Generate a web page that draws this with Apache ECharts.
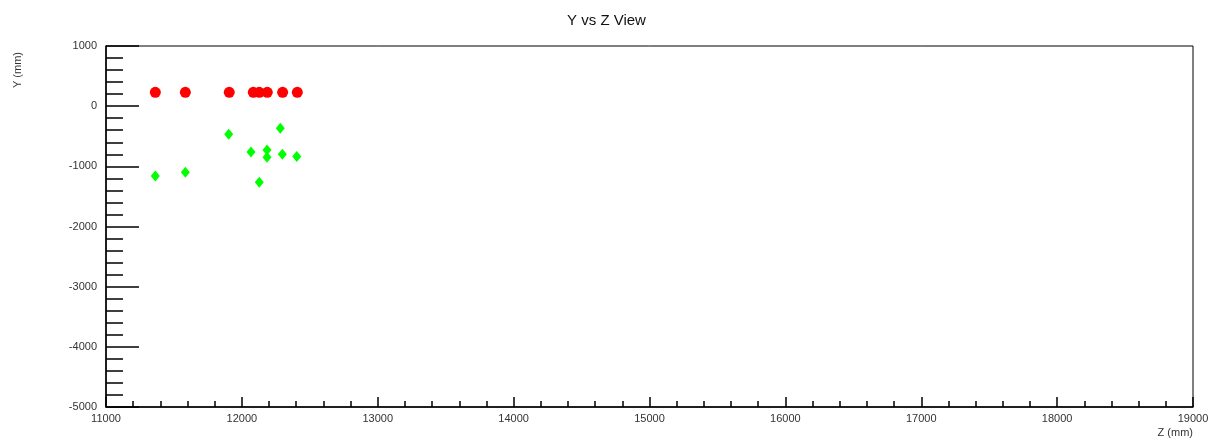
<!DOCTYPE html>
<html>
<head>
<meta charset="utf-8">
<script src="https://cdn.jsdelivr.net/npm/echarts@6/dist/echarts.min.js"></script>
<style>
  html, body { margin: 0; padding: 0; background: #fff; }
  #chart { width: 1213px; height: 441px; }
</style>
</head>
<body>
<div id="chart"></div>
<script>
// hit positions, Z (mm) and Y (mm)
const redZ = [11363, 11584, 11907, 12084, 12128, 12187, 12300, 12408];
const redY = [230, 230, 230, 230, 230, 230, 230, 230];
const greenZ = [11363, 11584, 11903, 12067, 12128, 12185, 12185, 12283, 12298, 12404];
const greenY = [-1160, -1100, -465, -760, -1265, -730, -850, -365, -800, -835];

const zTicks = [11000, 12000, 13000, 14000, 15000, 16000, 17000, 18000, 19000];
const yTicks = [-5000, -4000, -3000, -2000, -1000, 0, 1000];

const font = "'Liberation Sans', Arial, sans-serif";

const chart = echarts.init(document.getElementById("chart"));

const pairs = (xs, ys) => xs.map((x, i) => [x, ys[i]]);

chart.setOption({
  animation: false,
  backgroundColor: "#fff",
  title: {
    text: "Y vs Z View",
    left: "center",
    top: 8,
    textStyle: { fontFamily: font, fontSize: 15, fontWeight: "normal", color: "#111" },
  },
  grid: {
    left: 106,
    right: 20,
    top: 46,
    bottom: 34,
    show: true,
    borderColor: "#000",
    borderWidth: 1,
  },
  xAxis: {
    type: "value",
    min: zTicks[0],
    max: zTicks[zTicks.length - 1],
    interval: 1000,
    axisLine: { show: true, onZero: false, lineStyle: { color: "#000", width: 1.5 } },
    axisTick: { show: true, inside: true, length: 10, lineStyle: { color: "#000", width: 1.5 } },
    minorTick: { show: true, splitNumber: 5, length: 6, lineStyle: { color: "#000", width: 1.5 } },
    splitLine: { show: false },
    axisLabel: {
      margin: 6,
      fontFamily: font,
      fontSize: 11,
      color: "#333",
      showMinLabel: true,
      showMaxLabel: true,
      formatter: (v) => String(v),
    },
  },
  yAxis: {
    type: "value",
    min: yTicks[0],
    max: yTicks[yTicks.length - 1],
    interval: 1000,
    axisLine: { show: true, onZero: false, lineStyle: { color: "#000", width: 1.5 } },
    axisTick: { show: true, inside: true, length: 33, lineStyle: { color: "#000", width: 1.5 } },
    minorTick: { show: true, splitNumber: 5, length: 17, lineStyle: { color: "#000", width: 1.5 } },
    splitLine: { show: false },
    axisLabel: {
      margin: 9,
      fontFamily: font,
      fontSize: 11,
      color: "#333",
      formatter: (v) => String(v),
    },
  },
  graphic: [
    {
      type: "text",
      x: 18,
      y: 70,
      rotation: Math.PI / 2,
      style: {
        text: "Y (mm)",
        fontFamily: font,
        fontSize: 11,
        fill: "#333",
        align: "center",
        verticalAlign: "middle",
      },
    },
    {
      type: "text",
      x: 1193,
      y: 433,
      style: {
        text: "Z (mm)",
        fontFamily: font,
        fontSize: 11,
        fill: "#333",
        align: "right",
        verticalAlign: "middle",
      },
    },
  ],
  series: [
    {
      name: "red",
      type: "scatter",
      symbol: "circle",
      symbolSize: 11,
      itemStyle: { color: "#ff0000", opacity: 1 },
      data: pairs(redZ, redY),
    },
    {
      name: "green",
      type: "scatter",
      symbol: "diamond",
      symbolSize: [9, 11],
      itemStyle: { color: "#00ff00", opacity: 1 },
      data: pairs(greenZ, greenY),
    },
  ],
});
</script>
</body>
</html>
